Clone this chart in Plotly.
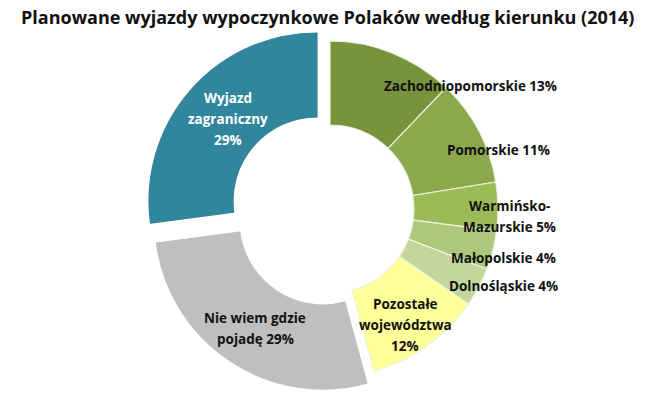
import plotly.graph_objects as go

# ---- data ----
labels = ["Zachodniopomorskie", "Pomorskie", "Warmińsko-Mazurskie", "Małopolskie",
          "Dolnośląskie", "Pozostałe województwa", "Nie wiem gdzie pojadę", "Wyjazd zagraniczny"]
values = [13, 11, 5, 4, 4, 12, 29, 29]
label_lines = ["Zachodniopomorskie ", "Pomorskie ", "Warmińsko-<br>Mazurskie ", "Małopolskie ",
               "Dolnośląskie ", "Pozostałe<br>województwa<br>", "Nie wiem gdzie<br>pojadę ",
               "Wyjazd<br>zagraniczny<br>"]
colors = ["#77933C", "#8BA84D", "#9BBB59", "#ACC67B", "#C3D69B", "#FFFF99", "#BFBFBF", "#31859C"]
groups = [0, 0, 0, 0, 0, 0, 1, 2]
title = "Planowane wyjazdy wypoczynkowe Polaków według kierunku (2014)"

# ---- layout helpers ----
W, H = 655, 398
R = 168
centers = {0: (330, 209), 1: (323, 221), 2: (317, 201)}
label_pos = [(470, 86), (498, 150), (509, 216), (503, 258), (503, 286),
             (405, 325), (255, 328), (228, 119)]
label_color = ["#111"] * 7 + ["white"]
LINE_H = 21

TRANSP = "rgba(0,0,0,0)"
fig = go.Figure()
for g, (cx, cy) in centers.items():
    cols = [c if gg == g else TRANSP for c, gg in zip(colors, groups)]
    lcols = [("#EEF3E0" if g == 0 else c) if gg == g else TRANSP for c, gg in zip(colors, groups)]
    fig.add_trace(go.Pie(
        labels=labels, values=values, sort=False, direction="clockwise", rotation=0,
        hole=0.5, textinfo="none", showlegend=False,
        marker=dict(colors=cols, line=dict(color=lcols, width=1.2)),
        domain=dict(x=[(cx - R) / W, (cx + R) / W], y=[1 - (cy + R) / H, 1 - (cy - R) / H]),
        hoverinfo="label+value",
    ))

annotations = []
for txt, v, (x, y), col in zip(label_lines, values, label_pos, label_color):
    lines = f"{txt}{v}%".split("<br>")
    n = len(lines)
    for i, line in enumerate(lines):
        ly = y + (i - (n - 1) / 2) * LINE_H
        annotations.append(dict(
            x=x / W, y=1 - ly / H, xref="paper", yref="paper", showarrow=False,
            xanchor="center", yanchor="middle",
            text=line, align="center",
            font=dict(family="Open Sans", size=13.5, color=col, weight=700),
        ))
annotations.append(dict(
    x=327 / W, y=1 - 17 / H, xref="paper", yref="paper", showarrow=False,
    xanchor="center", yanchor="middle",
    text=title, font=dict(family="Open Sans", size=18, color="#111", weight=700),
))

fig.update_layout(
    width=W, height=H, margin=dict(l=0, r=0, t=0, b=0),
    paper_bgcolor="white", plot_bgcolor="white",
    annotations=annotations,
)
fig.write_html("out.html")
